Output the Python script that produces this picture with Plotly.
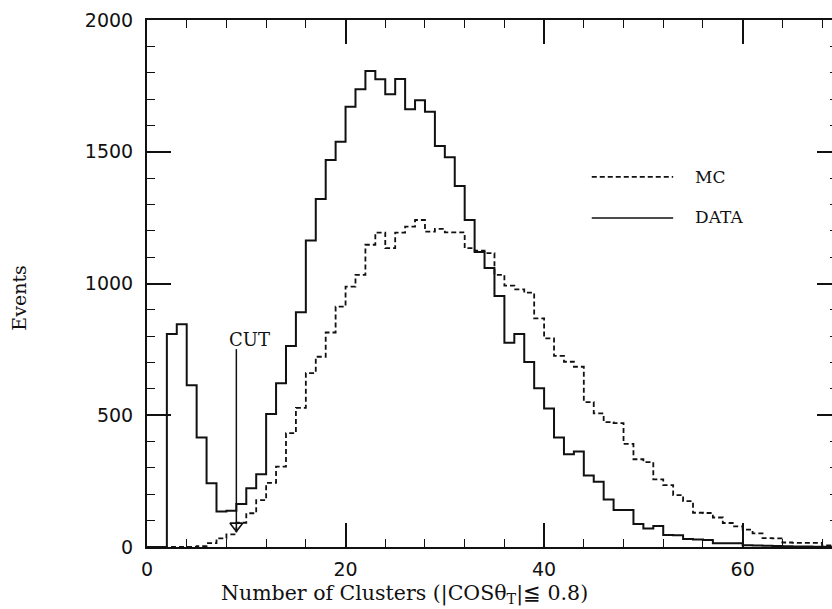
import plotly.graph_objects as go

# Histogram of the number of calorimeter clusters, one bin per cluster count
n_clusters = list(range(0, 70))

data_events = [0, 0, 808, 845, 614, 416, 242, 135, 138, 163,
               223, 276, 505, 621, 763, 891, 1163, 1321, 1469, 1538,
               1671, 1737, 1806, 1775, 1718, 1776, 1661, 1695, 1652, 1522,
               1479, 1370, 1241, 1120, 1059, 953, 775, 808, 702, 602,
               526, 416, 352, 362, 271, 248, 180, 140, 140, 87,
               70, 80, 46, 45, 30, 28, 27, 14, 14, 14,
               7, 6, 5, 4, 3, 2, 2, 1, 1, 1]

mc_events = [0, 0, 0, 0, 0, 3, 15, 33, 48, 92,
             128, 178, 243, 305, 432, 528, 660, 722, 814, 912,
             988, 1033, 1147, 1193, 1134, 1193, 1216, 1241, 1197, 1207,
             1194, 1194, 1134, 1125, 1115, 1033, 992, 978, 965, 868,
             792, 725, 703, 684, 550, 507, 474, 470, 391, 333,
             322, 257, 235, 197, 174, 130, 129, 112, 91, 78,
             66, 52, 34, 33, 17, 16, 16, 16, 6, 4]

cut_value = 9

x_ticks = [0, 20, 40, 60]
y_ticks = [0, 500, 1000, 1500, 2000]

INK = "#111111"
SERIF = "DejaVu Serif"
SANS = "DejaVu Sans"

# step outlines: left bin edges plus the closing right edge
edges = n_clusters + [n_clusters[-1] + 1]

fig = go.Figure()
# the MC curve sits on the right-hand count axis (same range) so its ticks get drawn
fig.add_trace(go.Scatter(
    x=edges, y=mc_events + [mc_events[-1]], mode="lines", line_shape="hv",
    line=dict(color=INK, width=1.8, dash="5px,3px"), name="MC", yaxis="y2",
    showlegend=False, hoverinfo="skip"))
fig.add_trace(go.Scatter(
    x=edges, y=data_events + [data_events[-1]], mode="lines", line_shape="hv",
    line=dict(color=INK, width=2), name="DATA",
    showlegend=False, hoverinfo="skip"))

# cut marker: vertical line ending in an open arrowhead
fig.add_shape(type="line", x0=cut_value, x1=cut_value, y0=751, y1=60,
              xref="x", yref="y", line=dict(color=INK, width=1.5))
fig.add_trace(go.Scatter(
    x=[cut_value], y=[80], mode="markers",
    marker=dict(symbol="triangle-down-open", size=11, color=INK,
                line=dict(color=INK, width=1.6)),
    showlegend=False, hoverinfo="skip"))
fig.add_annotation(x=10.3, y=786, xref="x", yref="y", text="CUT",
                   showarrow=False, font=dict(family=SERIF, size=18, color=INK))

# key
fig.add_shape(type="line", x0=44.8, x1=53.0, y0=1405, y1=1405, xref="x", yref="y",
              line=dict(color=INK, width=1.8, dash="5px,3px"))
fig.add_shape(type="line", x0=44.8, x1=53.0, y0=1249, y1=1249, xref="x", yref="y",
              line=dict(color=INK, width=1.5))
fig.add_annotation(x=55.0, y=1405, xref="x", yref="y", text="MC", xanchor="left",
                   showarrow=False, font=dict(family=SERIF, size=17, color=INK))
fig.add_annotation(x=55.0, y=1252, xref="x", yref="y", text="DATA", xanchor="left",
                   showarrow=False, font=dict(family=SERIF, size=17, color=INK))

# axis titles
fig.add_annotation(x=0.3766, y=-0.089, xref="paper", yref="paper",
                   text="Number of Clusters (|COS\u03b8<sub>T</sub>|\u2266 0.8)",
                   xanchor="center", yanchor="middle", showarrow=False,
                   font=dict(family=SERIF, size=20.5, color=INK))
fig.add_annotation(x=-0.187, y=0.473, xref="paper", yref="paper", text="Events",
                   textangle=-90, xanchor="center", yanchor="middle", showarrow=False,
                   font=dict(family=SERIF, size=19, color=INK))

fig.update_layout(
    width=832, height=609,
    margin=dict(l=147, r=0, t=20, b=62, pad=0),
    paper_bgcolor="white", plot_bgcolor="white",
    xaxis=dict(range=[0, 69.0], tickvals=x_ticks, ticks="inside", ticklen=24,
               tickwidth=1.5, tickcolor=INK,
               minor=dict(ticks="inside", ticklen=8, dtick=4, tick0=0,
                          tickwidth=1.2, tickcolor=INK),
               showline=True, linewidth=2, linecolor=INK, mirror="ticks",
               showgrid=False, zeroline=False, ticklabelstandoff=4,
               tickfont=dict(family=SANS, size=19, color=INK)),
    yaxis=dict(range=[0, 2000], tickvals=y_ticks, ticks="inside", ticklen=24,
               tickwidth=1.5, tickcolor=INK,
               minor=dict(ticks="inside", ticklen=8, dtick=100, tick0=0,
                          tickwidth=1.2, tickcolor=INK),
               showline=True, linewidth=2, linecolor=INK,
               showgrid=False, zeroline=False, ticklabelstandoff=8,
               tickfont=dict(family=SANS, size=19, color=INK)),
    yaxis2=dict(range=[0, 2000], overlaying="y", side="right", anchor="x",
                tickvals=y_ticks, ticks="inside", ticklen=15, tickwidth=1.5,
                tickcolor=INK,
                minor=dict(ticks="inside", ticklen=2, dtick=100, tick0=0,
                           tickwidth=1.2, tickcolor=INK),
                showline=False, showgrid=False, zeroline=False,
                showticklabels=False),
)

fig.write_html("out.html")
